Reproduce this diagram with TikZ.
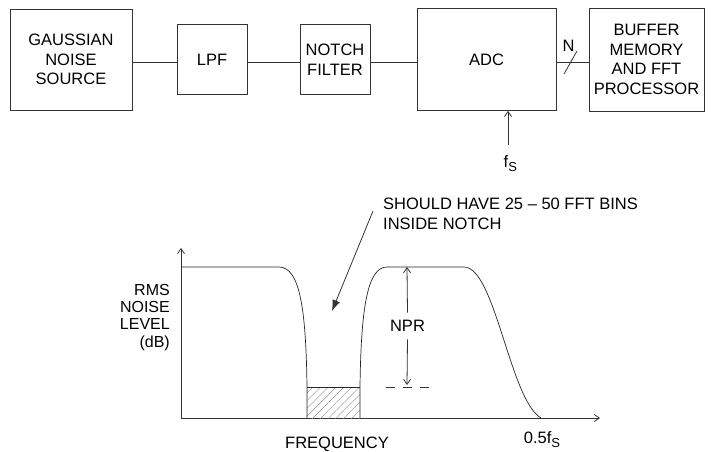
\documentclass[tikz,border=0pt]{standalone}
\usepackage{fontspec}
\setmainfont{Liberation Sans}
\usetikzlibrary{arrows.meta,patterns.meta}
\newcommand{\subS}{\raisebox{-0.28em}{\fontsize{13}{13}\selectfont S}}
\begin{document}
\begin{tikzpicture}[x=1pt,y=-1pt,
  blk/.style={draw=black!80, line width=0.8pt, inner sep=0pt, align=center,
    font=\fontsize{16.5}{19.5}\selectfont},
  wire/.style={draw=black!80, line width=0.8pt},
  curve/.style={draw=black!85, line width=0.7pt},
  lbl/.style={font=\fontsize{16.5}{19.5}\selectfont, inner sep=0pt},
  tip/.style={-{Straight Barb[length=5pt,width=7pt]}}
]
\useasboundingbox (0,0) rectangle (716,451);

% ---- block diagram ----
\node[blk, minimum width=122pt, minimum height=101pt] (gns) at (71,59.5) {GAUSSIAN\\NOISE\\SOURCE};
\node[blk, minimum width=70pt, minimum height=70pt] (lpf) at (212,59.5) {LPF};
\node[blk, minimum width=70pt, minimum height=70pt] (notch) at (335,59.5) {NOTCH\\FILTER};
\node[blk, minimum width=139pt, minimum height=102pt] (adc) at (486.5,59.5) {ADC};
\node[blk, minimum width=115pt, minimum height=103pt] (buf) at (646.5,59.5) {BUFFER\\MEMORY\\AND FFT\\PROCESSOR};

\draw[wire] ([yshift=-2.5pt]gns.east) -- ([yshift=-2.5pt]lpf.west);
\draw[wire] ([yshift=-2.5pt]lpf.east) -- ([yshift=-2.5pt]notch.west);
\draw[wire] ([yshift=-2.5pt]notch.east) -- ([yshift=-2.5pt]adc.west);
\draw[wire] ([yshift=-2.5pt]adc.east) -- ([yshift=-2.5pt]buf.west);
\draw[wire] (564,74) -- (577,51);
\node[lbl, anchor=base] (nbits) at (568.5,51) {N};

\coordinate (fsin) at (508,145);
\draw[wire, tip] (fsin) -- (adc.south -| fsin);
\node[lbl, anchor=base west] (fs) at (503.5,167) {f\subS};

% ---- spectrum plot ----
\coordinate (O) at (181,418);
\coordinate (ytop) at (181,248);
\coordinate (xend) at (600,418);
\draw[wire, tip] (O) -- (ytop);
\draw[wire, tip] (O) -- (xend);

\fill[pattern={Lines[angle=45,distance=5.5pt,line width=0.4pt]}, pattern color=black!45]
  (307,387) rectangle (360,418);
\draw[curve] (307,387) -- (360,387);

\draw[curve] (181,267) -- (279,267) .. controls (300,267) and (306,310) .. (307,387) -- (307,418);
\draw[curve] (360,418) -- (360,387) .. controls (361,310) and (367,267) .. (387,267)
  -- (464,267) .. controls (495,267) and (510,400) .. (541,418);

\node[lbl, inner ysep=7.5pt] (npr) at (407.5,326) {NPR};
\coordinate (nprtop) at (407,267);
\coordinate (nprbot) at (407,385);
\draw[wire, tip] (npr.north) -- (nprtop);
\draw[wire, tip] (npr.south) -- (nprbot);
\draw[wire, dash pattern=on 9pt off 8pt] (386,387) -- (432,387);

\node[lbl, align=left, anchor=north west] (note) at (383,198)
  {SHOULD HAVE 25 -- 50 FFT BINS\\INSIDE NOTCH};
\coordinate (a1) at (373,211);
\coordinate (a2) at (332,311);
\draw[wire, -{Latex[length=11pt,width=8pt]}] (a1) -- (a2);

\node[anchor=north east, align=right, inner sep=0pt,
  font=\fontsize{16}{17.3}\selectfont] (rms) at (170,284) {RMS\\NOISE\\LEVEL\\(dB)};

\node[lbl, anchor=base] (freq) at (337,448) {FREQUENCY};
\node[lbl, anchor=base] (half) at (542,443) {0.5f\subS};
\end{tikzpicture}
\end{document}
